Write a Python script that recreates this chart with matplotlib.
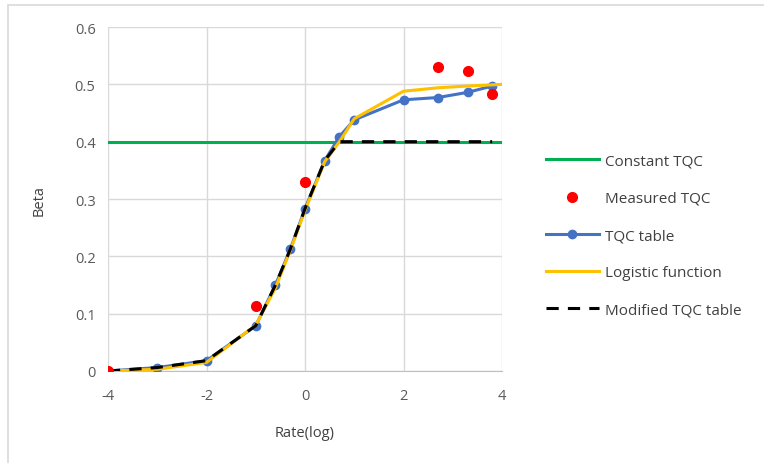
import numpy as np
import matplotlib
matplotlib.use("Agg")
import matplotlib.pyplot as plt
from matplotlib.patches import Rectangle

# rate on log scale and the corresponding beta values
rate_tbl = [-4, -3, -2, -1, -0.6, -0.3, 0, 0.4, 0.7, 1, 2, 2.7, 3.3, 3.8]
beta_tbl = [0, 0.006, 0.018, 0.079, 0.150, 0.212, 0.283, 0.367, 0.409, 0.438,
            0.473, 0.477, 0.486, 0.497]

rate_meas = [-4, -1, 0, 2.7, 3.3, 3.8]
beta_meas = [0, 0.113, 0.330, 0.531, 0.523, 0.483]

rate_logi = [-4, -3, -2, -1, -0.6, -0.3, 0, 0.4, 0.7, 1, 2, 2.7, 3.3, 4]
beta_logi = [0, 0.003, 0.015, 0.080, 0.145, 0.210, 0.280, 0.365, 0.400, 0.440,
             0.488, 0.494, 0.497, 0.500]

rate_mod = [-4, -3, -2, -1, -0.6, -0.3, 0, 0.4, 0.7, 1, 2, 2.7, 3.3, 3.8]
beta_mod = [0, 0.006, 0.018, 0.079, 0.150, 0.212, 0.283, 0.367, 0.400, 0.400,
            0.400, 0.400, 0.400, 0.400]

rate_const = [-4, 4]
beta_const = [0.4, 0.4]

plt.rcParams['font.family'] = ['Open Sans', 'DejaVu Sans']
plt.rcParams['axes.unicode_minus'] = False

fig = plt.figure(figsize=(7.64, 4.64), dpi=100)
# chart border (runs off the right and bottom edges)
fig.patches.append(Rectangle((8 / 764, -0.1), 1.2, 1.1 - 6 / 464, transform=fig.transFigure,
                             fill=False, edgecolor='#D9D9D9', linewidth=1.2))

ax = fig.add_axes([108 / 764, 1 - 372 / 464, (502 - 108) / 764, (372 - 28) / 464])

ax.plot(rate_const, beta_const, color='#00B050', lw=2.2, label='Constant TQC', zorder=3)
ax.plot(rate_meas, beta_meas, 'o', color='#FF0000', ms=7, label='Measured TQC', zorder=6)
ax.plot(rate_tbl, beta_tbl, '-o', color='#4472C4', lw=2.2, ms=6, label='TQC table', zorder=4)
ax.plot(rate_logi, beta_logi, color='#FFC000', lw=2.2, label='Logistic function', zorder=5)
ax.plot(rate_mod, beta_mod, '--', color='black', lw=2.2, dashes=(4, 3),
        label='Modified TQC table', zorder=5)

ax.set_xlim(-4, 4)
ax.set_ylim(0, 0.6)
ax.set_xticks([-4, -2, 0, 2, 4])
ax.set_yticks(np.arange(0, 0.61, 0.1))
ax.set_yticklabels(['0', '0.1', '0.2', '0.3', '0.4', '0.5', '0.6'])
ax.grid(True, color='#D9D9D9', lw=1)
ax.set_axisbelow(True)
for s in ['top', 'right', 'left']:
    ax.spines[s].set_visible(False)
ax.spines['bottom'].set_color('#BFBFBF')
ax.tick_params(length=0, labelsize=10.5, colors='#595959')
ax.tick_params(axis='x', pad=12)
ax.tick_params(axis='y', pad=9)

ax.set_xlabel('Rate(log)', fontsize=10.5, color='#404040', labelpad=16)
ax.set_ylabel('Beta', fontsize=10.5, color='#404040', labelpad=20)

ax.legend(loc='upper left', bbox_to_anchor=(532 / 764, 1 - 141 / 464),
          bbox_transform=fig.transFigure, frameon=False, fontsize=11,
          handlelength=3.5, handletextpad=0.35, labelspacing=1.45, labelcolor='#404040')

fig.savefig('out.png', dpi=100)
